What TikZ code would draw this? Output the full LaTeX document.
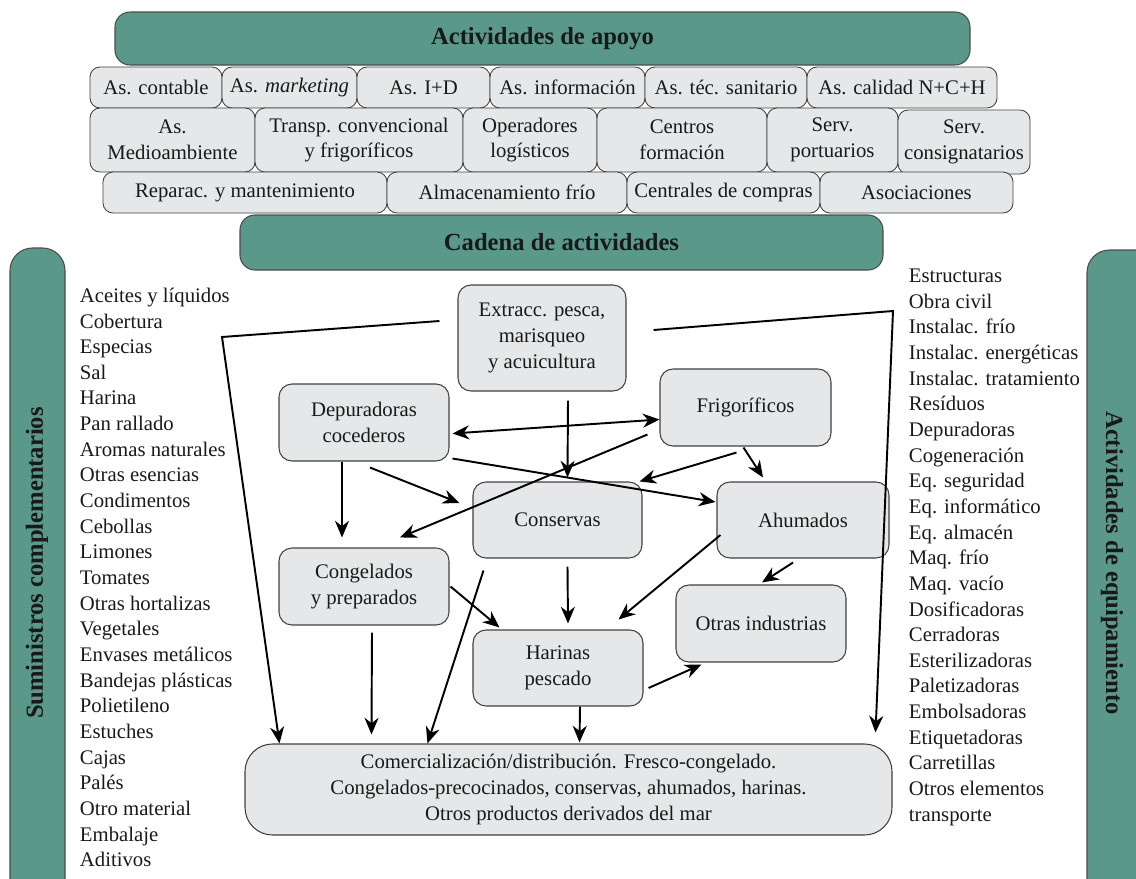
\documentclass[tikz,border=0pt]{standalone}
\usepackage{fontspec}
\setmainfont{Liberation Serif}
\usetikzlibrary{arrows.meta,calc}
\definecolor{verde}{RGB}{90,152,137}
\definecolor{gris}{RGB}{230,231,232}
\tikzset{
  tam/.style 2 args={minimum width=#1*0.02cm,minimum height=#2*0.02cm},
  caja/.style={draw=black!75,fill=gris,rounded corners=0.2cm,inner sep=0pt,line width=0.5pt,align=center},
  proc/.style={caja,rounded corners=0.26cm,line width=0.6pt},
  banda/.style={draw=black!70,fill=verde,rounded corners=0.3cm,inner sep=0pt,line width=0.6pt,font=\fontsize{14}{16}\bfseries\selectfont},
  lista/.style={align=left,inner sep=0pt,anchor=north west},
}
\begin{document}
\begin{tikzpicture}[x=0.02cm,y=-0.02cm,>={Stealth[length=9.5pt,width=8pt]},line width=1.1pt,
  font=\fontsize{11.8}{14.6}\selectfont,text=black!90]
  \useasboundingbox (0,0) rectangle (1136,879);

  % bandas verdes
  \node[banda,tam={855}{53}] (apoyo) at (542.5,38.5) {Actividades de apoyo};
  \node[banda,tam={643}{55}] (cadena) at (561.5,242.5) {Cadena de actividades};
  \draw[draw=black!70,fill=verde,rounded corners=0.45cm,line width=0.6pt] (10,910) -- (10,248) -- (65,248) -- (65,910);
  \draw[draw=black!70,fill=verde,rounded corners=0.45cm,line width=0.6pt] (1087,910) -- (1087,250) -- (1160,250) -- (1160,910);
  \node[rotate=90,font=\fontsize{14}{16}\bfseries\selectfont] (suml) at (37,563) {Suministros complementarios};
  \node[rotate=-90,font=\fontsize{14}{16}\bfseries\selectfont] (equl) at (1112,563) {Actividades de equipamiento};

  % actividades de apoyo
  \node[caja,tam={132}{41}] (contable) at (156,87.5) {As. contable};
  \node[caja,tam={135}{41}] (marketing) at (289.5,87.5) {As. \textit{marketing}};
  \node[caja,tam={133}{41}] (imasd) at (423.5,87.5) {As. I+D};
  \node[caja,tam={155}{41}] (informa) at (567.5,87.5) {As. información};
  \node[caja,tam={162}{41}] (sanitario) at (726,87.5) {As. téc. sanitario};
  \node[caja,tam={190}{41}] (calidad) at (902,87.5) {As. calidad N+C+H};

  \node[caja,tam={165}{64}] (medio) at (172.5,140) {As.\\Medioambiente};
  \node[caja,tam={208}{64}] (transp) at (359,140) {Transp. convencional\\y frigoríficos};
  \node[caja,tam={134}{64}] (operad) at (530,140) {Operadores\\logísticos};
  \node[caja,tam={170}{64}] (centros) at (682,140) {Centros\\formación};
  \node[caja,tam={131}{64}] (portu) at (832.5,140) {Serv.\\portuarios};
  \node[caja,tam={132}{64}] (consig) at (964,142) {Serv.\\consignatarios};

  \node[caja,tam={284}{41}] (repar) at (245,192.5) {Reparac. y mantenimiento};
  \node[caja,tam={240}{41}] (almac) at (507,192.5) {Almacenamiento frío};
  \node[caja,tam={193}{41}] (compras) at (723.5,192.5) {Centrales de compras};
  \node[caja,tam={193}{41}] (asoc) at (916.5,192.5) {Asociaciones};

  % listas laterales
  \node[lista] (suministros) at (79,287) {Aceites y líquidos\\Cobertura\\Especias\\Sal\\Harina\\Pan rallado\\Aromas naturales\\Otras esencias\\Condimentos\\Cebollas\\Limones\\Tomates\\Otras hortalizas\\Vegetales\\Envases metálicos\\Bandejas plásticas\\Polietileno\\Estuches\\Cajas\\Palés\\Otro material\\Embalaje\\Aditivos};
  \node[lista] (equipos) at (908,268) {Estructuras\\Obra civil\\Instalac. frío\\Instalac. energéticas\\Instalac. tratamiento\\Resíduos\\Depuradoras\\Cogeneración\\Eq. seguridad\\Eq. informático\\Eq. almacén\\Maq. frío\\Maq. vacío\\Dosificadoras\\Cerradoras\\Esterilizadoras\\Paletizadoras\\Embolsadoras\\Etiquetadoras\\Carretillas\\Otros elementos\\transporte};

  % cadena
  \node[proc,tam={168}{106}] (extr) at (542,338) {Extracc. pesca,\\marisqueo\\y acuicultura};
  \node[proc,tam={170}{77}] (depu) at (364,422.5) {Depuradoras\\cocederos};
  \node[proc,tam={171}{77}] (frig) at (745.5,407.5) {Frigoríficos};
  \node[proc,tam={169}{76}] (cons) at (557.5,520) {Conservas};
  \node[proc,tam={172}{76}] (ahum) at (803,520) {Ahumados};
  \node[proc,tam={170}{77}] (cong) at (364,586.5) {Congelados\\y preparados};
  \node[proc,tam={170}{77}] (otras) at (761,623.5) {Otras industrias};
  \node[proc,tam={170}{76}] (harin) at (558,668) {Harinas\\pescado};
  \node[proc,rounded corners=0.55cm,tam={647}{91}] (comer) at (568.5,789.5) {Comercialización/distribución. Fresco-congelado.\\Congelados-precocinados, conservas, ahumados, harinas.\\Otros productos derivados del mar};

  \coordinate (esqi) at (222,337);
  \coordinate (esqd) at (893,311);

  % flechas
  \draw[->] ($(extr.west)+(-18,-17)$) -- (esqi) -- ($(comer.north west)+(35,0)$);
  \draw[->] ($(extr.east)+(27,-8)$) -- (esqd) -- ($(comer.north east)+(-17,-11)$);
  \draw[->] ($(extr.south)+(26,9)$) -- ($(cons.north)+(10,-4)$);
  \draw[<->] ($(depu.east)+(3,11)$) -- ($(frig.west)+(0,12)$);
  \draw[->] ($(frig.west)+(-12,27)$) -- ($(cong.north)+(36,-10)$);
  \draw[->] ($(depu.south east)+(3,-3)$) -- ($(ahum.west)+(-1,-18)$);
  \draw[->] ($(depu.south)+(6,6)$) -- ($(cons.west)+(-13,-17)$);
  \draw[->] ($(depu.south)+(-22,0)$) -- ($(cong.north)+(-22,-10)$);
  \draw[->] ($(frig.south)+(-9,6)$) -- ($(cons.north east)+(-3,0)$);
  \draw[->] ($(frig.south)+(-2,1)$) -- ($(ahum.north)+(-40,-4)$);
  \draw[->] ($(cons.south)+(10,8)$) -- ($(harin.north)+(10,-6)$);
  \draw[->] ($(ahum.west)+(4,15)$) -- ($(harin.north east)+(-25,-10)$);
  \draw[->] ($(ahum.south)+(-10,4)$) -- ($(otras.north)+(1,-2)$);
  \draw[->] ($(cong.east)+(1,0)$) -- ($(harin.north west)+(27,-2)$);
  \draw[->] ($(cons.south west)+(11,12)$) -- ($(comer.north)+(-141,0)$);
  \draw[->] ($(cong.south)+(8,7)$) -- ($(comer.north west)+(127,-9)$);
  \draw[->] ($(harin.south)+(22,0)$) -- ($(comer.north)+(11,-1)$);
  \draw[->] ($(harin.east)+(5,20)$) -- ($(otras.south west)+(26,2)$);
\end{tikzpicture}
\end{document}
